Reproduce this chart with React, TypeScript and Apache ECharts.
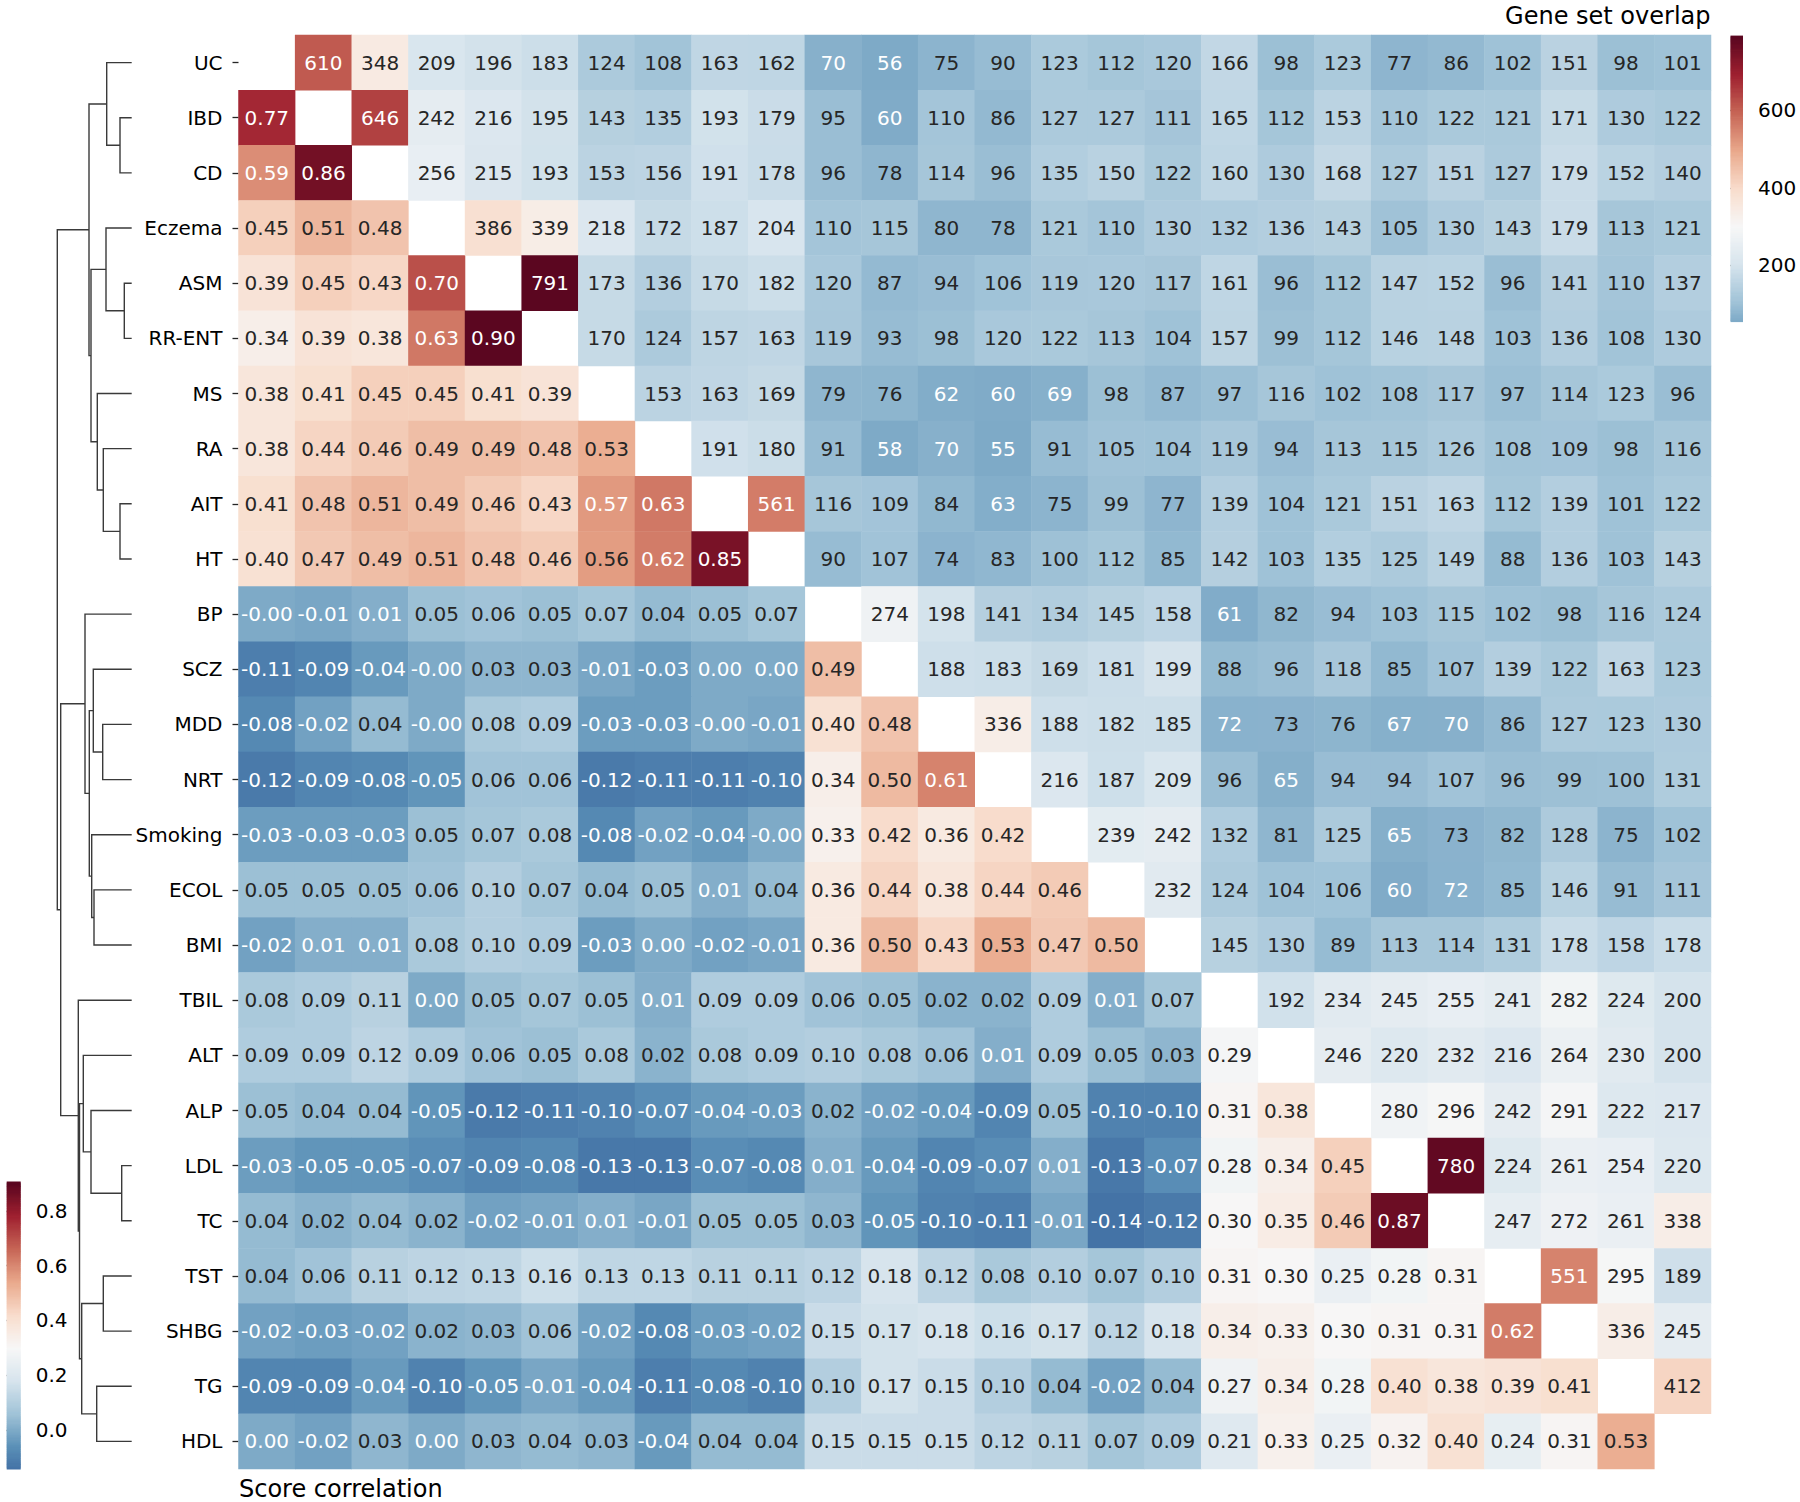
import React, { useEffect, useRef } from "react";
import * as echarts from "echarts";

// ---------- DATA ----------
const traits = [
  "UC", "IBD", "CD", "Eczema", "ASM", "RR-ENT", "MS", "RA", "AIT", "HT",
  "BP", "SCZ", "MDD", "NRT", "Smoking", "ECOL", "BMI",
  "TBIL", "ALT", "ALP", "LDL", "TC", "TST", "SHBG", "TG", "HDL",
];

// lower triangle: score correlation; upper triangle: gene set overlap; diagonal: null
const rowUC = [null, 610, 348, 209, 196, 183, 124, 108, 163, 162, 70, 56, 75, 90, 123, 112, 120, 166, 98, 123, 77, 86, 102, 151, 98, 101];
const rowIBD = [0.77, null, 646, 242, 216, 195, 143, 135, 193, 179, 95, 60, 110, 86, 127, 127, 111, 165, 112, 153, 110, 122, 121, 171, 130, 122];
const rowCD = [0.59, 0.86, null, 256, 215, 193, 153, 156, 191, 178, 96, 78, 114, 96, 135, 150, 122, 160, 130, 168, 127, 151, 127, 179, 152, 140];
const rowEczema = [0.45, 0.51, 0.48, null, 386, 339, 218, 172, 187, 204, 110, 115, 80, 78, 121, 110, 130, 132, 136, 143, 105, 130, 143, 179, 113, 121];
const rowASM = [0.39, 0.45, 0.43, 0.70, null, 791, 173, 136, 170, 182, 120, 87, 94, 106, 119, 120, 117, 161, 96, 112, 147, 152, 96, 141, 110, 137];
const rowRRENT = [0.34, 0.39, 0.38, 0.63, 0.90, null, 170, 124, 157, 163, 119, 93, 98, 120, 122, 113, 104, 157, 99, 112, 146, 148, 103, 136, 108, 130];
const rowMS = [0.38, 0.41, 0.45, 0.45, 0.41, 0.39, null, 153, 163, 169, 79, 76, 62, 60, 69, 98, 87, 97, 116, 102, 108, 117, 97, 114, 123, 96];
const rowRA = [0.38, 0.44, 0.46, 0.49, 0.49, 0.48, 0.53, null, 191, 180, 91, 58, 70, 55, 91, 105, 104, 119, 94, 113, 115, 126, 108, 109, 98, 116];
const rowAIT = [0.41, 0.48, 0.51, 0.49, 0.46, 0.43, 0.57, 0.63, null, 561, 116, 109, 84, 63, 75, 99, 77, 139, 104, 121, 151, 163, 112, 139, 101, 122];
const rowHT = [0.40, 0.47, 0.49, 0.51, 0.48, 0.46, 0.56, 0.62, 0.85, null, 90, 107, 74, 83, 100, 112, 85, 142, 103, 135, 125, 149, 88, 136, 103, 143];
const rowBP = [-0.001, -0.01, 0.01, 0.05, 0.06, 0.05, 0.07, 0.04, 0.05, 0.07, null, 274, 198, 141, 134, 145, 158, 61, 82, 94, 103, 115, 102, 98, 116, 124];
const rowSCZ = [-0.11, -0.09, -0.04, -0.001, 0.03, 0.03, -0.01, -0.03, 0.00, 0.00, 0.49, null, 188, 183, 169, 181, 199, 88, 96, 118, 85, 107, 139, 122, 163, 123];
const rowMDD = [-0.08, -0.02, 0.04, -0.001, 0.08, 0.09, -0.03, -0.03, -0.001, -0.01, 0.40, 0.48, null, 336, 188, 182, 185, 72, 73, 76, 67, 70, 86, 127, 123, 130];
const rowNRT = [-0.12, -0.09, -0.08, -0.05, 0.06, 0.06, -0.12, -0.11, -0.11, -0.10, 0.34, 0.50, 0.61, null, 216, 187, 209, 96, 65, 94, 94, 107, 96, 99, 100, 131];
const rowSmoking = [-0.03, -0.03, -0.03, 0.05, 0.07, 0.08, -0.08, -0.02, -0.04, -0.001, 0.33, 0.42, 0.36, 0.42, null, 239, 242, 132, 81, 125, 65, 73, 82, 128, 75, 102];
const rowECOL = [0.05, 0.05, 0.05, 0.06, 0.10, 0.07, 0.04, 0.05, 0.01, 0.04, 0.36, 0.44, 0.38, 0.44, 0.46, null, 232, 124, 104, 106, 60, 72, 85, 146, 91, 111];
const rowBMI = [-0.02, 0.01, 0.01, 0.08, 0.10, 0.09, -0.03, 0.00, -0.02, -0.01, 0.36, 0.50, 0.43, 0.53, 0.47, 0.50, null, 145, 130, 89, 113, 114, 131, 178, 158, 178];
const rowTBIL = [0.08, 0.09, 0.11, 0.00, 0.05, 0.07, 0.05, 0.01, 0.09, 0.09, 0.06, 0.05, 0.02, 0.02, 0.09, 0.01, 0.07, null, 192, 234, 245, 255, 241, 282, 224, 200];
const rowALT = [0.09, 0.09, 0.12, 0.09, 0.06, 0.05, 0.08, 0.02, 0.08, 0.09, 0.10, 0.08, 0.06, 0.01, 0.09, 0.05, 0.03, 0.29, null, 246, 220, 232, 216, 264, 230, 200];
const rowALP = [0.05, 0.04, 0.04, -0.05, -0.12, -0.11, -0.10, -0.07, -0.04, -0.03, 0.02, -0.02, -0.04, -0.09, 0.05, -0.10, -0.10, 0.31, 0.38, null, 280, 296, 242, 291, 222, 217];
const rowLDL = [-0.03, -0.05, -0.05, -0.07, -0.09, -0.08, -0.13, -0.13, -0.07, -0.08, 0.01, -0.04, -0.09, -0.07, 0.01, -0.13, -0.07, 0.28, 0.34, 0.45, null, 780, 224, 261, 254, 220];
const rowTC = [0.04, 0.02, 0.04, 0.02, -0.02, -0.01, 0.01, -0.01, 0.05, 0.05, 0.03, -0.05, -0.10, -0.11, -0.01, -0.14, -0.12, 0.30, 0.35, 0.46, 0.87, null, 247, 272, 261, 338];
const rowTST = [0.04, 0.06, 0.11, 0.12, 0.13, 0.16, 0.13, 0.13, 0.11, 0.11, 0.12, 0.18, 0.12, 0.08, 0.10, 0.07, 0.10, 0.31, 0.30, 0.25, 0.28, 0.31, null, 551, 295, 189];
const rowSHBG = [-0.02, -0.03, -0.02, 0.02, 0.03, 0.06, -0.02, -0.08, -0.03, -0.02, 0.15, 0.17, 0.18, 0.16, 0.17, 0.12, 0.18, 0.34, 0.33, 0.30, 0.31, 0.31, 0.62, null, 336, 245];
const rowTG = [-0.09, -0.09, -0.04, -0.10, -0.05, -0.01, -0.04, -0.11, -0.08, -0.10, 0.10, 0.17, 0.15, 0.10, 0.04, -0.02, 0.04, 0.27, 0.34, 0.28, 0.40, 0.38, 0.39, 0.41, null, 412];
const rowHDL = [0.00, -0.02, 0.03, 0.00, 0.03, 0.04, 0.03, -0.04, 0.04, 0.04, 0.15, 0.15, 0.15, 0.12, 0.11, 0.07, 0.09, 0.21, 0.33, 0.25, 0.32, 0.40, 0.24, 0.31, 0.53, null];

const matrix = [
  rowUC, rowIBD, rowCD, rowEczema, rowASM, rowRRENT, rowMS, rowRA, rowAIT, rowHT,
  rowBP, rowSCZ, rowMDD, rowNRT, rowSmoking, rowECOL, rowBMI,
  rowTBIL, rowALT, rowALP, rowLDL, rowTC, rowTST, rowSHBG, rowTG, rowHDL,
];

// dendrogram merges (scipy style): [childA, childB, linkage height]; leaves 0..25, new nodes 26..
const merges: [number, number, number][] = [
  [4, 5, 7.4], [20, 21, 10], [1, 2, 11.7], [8, 9, 11.7], [0, 28, 25], [3, 26, 25.7],
  [7, 29, 28.4], [22, 23, 28.4], [12, 13, 29], [6, 32, 34.4], [24, 25, 35], [15, 16, 37.7],
  [11, 34, 38.4], [14, 37, 40], [31, 35, 40.7], [19, 27, 40.7], [38, 39, 42.4], [30, 40, 42.7],
  [10, 42, 46.7], [18, 41, 48.4], [33, 36, 50], [45, 46, 52.2], [17, 47, 53.4], [44, 48, 71], [43, 49, 74.4],
];

const corrTicks = [0, 0.2, 0.4, 0.6, 0.8];
const overlapTicks = [200, 400, 600];
const corrRange = [-0.142, 0.905];
const corrCenter = 0.3;
const overlapRange = [55, 791];
const overlapCenter = 300;

// ---------- COLORMAP (matplotlib RdBu_r, seaborn-style recentering) ----------
const RDBU = [
  [0.403921568627451, 0.0, 0.12156862745098039],
  [0.6980392156862745, 0.09411764705882353, 0.16862745098039217],
  [0.8392156862745098, 0.3764705882352941, 0.30196078431372547],
  [0.9568627450980393, 0.6470588235294118, 0.5098039215686274],
  [0.9921568627450981, 0.8588235294117647, 0.7803921568627451],
  [0.9686274509803922, 0.9686274509803922, 0.9686274509803922],
  [0.8196078431372549, 0.8980392156862745, 0.9411764705882353],
  [0.5725490196078431, 0.7725490196078432, 0.8705882352941177],
  [0.2627450980392157, 0.5764705882352941, 0.7647058823529411],
  [0.12941176470588237, 0.4, 0.6745098039215687],
  [0.0196078431372549, 0.18823529411764706, 0.3803921568627451],
];
const RDBU_R = RDBU.slice().reverse();

function rdbuR(x: number): number[] {
  let i = Math.floor(x * 256);
  if (i < 0) i = 0;
  if (i > 255) i = 255;
  const t = i / 255;
  const p = t * 10;
  const k = Math.min(9, Math.floor(p));
  const f = p - k;
  const a = RDBU_R[k];
  const b = RDBU_R[k + 1];
  return [a[0] + (b[0] - a[0]) * f, a[1] + (b[1] - a[1]) * f, a[2] + (b[2] - a[2]) * f];
}

function centeredListed(vmin: number, vmax: number, center: number): number[][] {
  const vr = Math.max(vmax - center, center - vmin);
  const lo = center - vr;
  const hi = center + vr;
  const cmin = (vmin - lo) / (hi - lo);
  const cmax = (vmax - lo) / (hi - lo);
  const out: number[][] = [];
  for (let i = 0; i < 256; i++) out.push(rdbuR(cmin + ((cmax - cmin) * i) / 255));
  return out;
}

function pick(listed: number[][], v: number, vmin: number, vmax: number) {
  let i = Math.floor(((v - vmin) / (vmax - vmin)) * 256);
  if (i < 0) i = 0;
  if (i > 255) i = 255;
  return listed[i];
}

// the printed reference is slightly muted: mild desaturation with a small violet shift of blues
function toneColor(c: number[]): number[] {
  const luma = 0.299 * c[0] + 0.587 * c[1] + 0.114 * c[2];
  const s = 0.18;
  let r = c[0] + (luma - c[0]) * s;
  const g = c[1] + (luma - c[1]) * s;
  const b = c[2] + (luma - c[2]) * s;
  r = r + 0.12 * Math.max(0, b - r);
  return [r, g, b];
}

function hex(c: number[]) {
  return (
    "#" +
    c
      .map((x) => Math.round(Math.max(0, Math.min(1, x)) * 255).toString(16).padStart(2, "0"))
      .join("")
  );
}

function textColor(c: number[]) {
  const lin = c.map((x) => (x <= 0.03928 ? x / 12.92 : Math.pow((x + 0.055) / 1.055, 2.4)));
  const lum = 0.2126 * lin[0] + 0.7152 * lin[1] + 0.0722 * lin[2];
  return lum <= 0.408 ? "#ffffff" : "#262626";
}

const FONT = "DejaVu Sans";

export default function App() {
  const ref = useRef<HTMLDivElement>(null);

  useEffect(() => {
    if (!ref.current) return;
    const chart = echarts.init(ref.current, null, { renderer: "svg" });

    const corrListed = centeredListed(corrRange[0], corrRange[1], corrCenter);
    const ovlListed = centeredListed(overlapRange[0], overlapRange[1], overlapCenter);
    const corrShown = corrListed.map((c) => hex(toneColor(c)));
    const ovlShown = ovlListed.map((c) => hex(toneColor(c)));

    const corrData: any[] = [];
    const ovlData: any[] = [];
    matrix.forEach((row, i) => {
      row.forEach((v, j) => {
        if (v === null || v === undefined) return;
        if (j < i) {
          const c = pick(corrListed, v, corrRange[0], corrRange[1]);
          corrData.push({ value: [j, i, v], label: { color: textColor(c) } });
        } else if (j > i) {
          const c = pick(ovlListed, v, overlapRange[0], overlapRange[1]);
          ovlData.push({ value: [j, i, v], label: { color: textColor(c) } });
        }
      });
    });

    // dendrogram links
    const pos: number[] = [];
    const hgt: number[] = [];
    for (let i = 0; i < traits.length; i++) {
      pos[i] = i;
      hgt[i] = 0;
    }
    const links = merges.map(([a, b, h], k) => {
      const id = traits.length + k;
      pos[id] = (pos[a] + pos[b]) / 2;
      hgt[id] = h;
      return [pos[a], pos[b], hgt[a], hgt[b], h];
    });

    const barData = (range: number[]) => {
      const out: number[][] = [];
      for (let k = 0; k < 256; k++) {
        out.push([
          k,
          range[0] + ((range[1] - range[0]) * k) / 256,
          range[0] + ((range[1] - range[0]) * (k + 1)) / 256,
        ]);
      }
      return out;
    };

    const barRender = (shown: string[]) => (params: any, api: any) => {
      const k = api.value(0);
      const p1 = api.coord([0, api.value(2)]);
      const p2 = api.coord([1, api.value(1)]);
      return {
        type: "rect",
        shape: { x: p1[0], y: p1[1] - 0.4, width: p2[0] - p1[0], height: p2[1] - p1[1] + 0.8 },
        style: { fill: shown[k] },
        silent: true,
      };
    };

    const heatLabel = {
      show: true,
      fontSize: 20,
      fontFamily: FONT,
    };

    const tickStyle = { color: "#262626", width: 1.3 };

    const option: any = {
      animation: false,
      backgroundColor: "#ffffff",
      textStyle: { fontFamily: FONT },
      grid: [
        { left: 238.5, top: 35, width: 1472.5, height: 1434 },
        { left: 6.7, top: 35, width: 125, height: 1434 },
        { left: 1730.5, top: 36, width: 12.5, height: 285.7 },
        { left: 6.7, top: 1182, width: 14, height: 287 },
      ],
      xAxis: [
        {
          type: "category",
          data: traits,
          gridIndex: 0,
          axisLine: { show: false },
          axisTick: { show: false },
          axisLabel: { show: false },
          splitLine: { show: false },
        },
        { type: "value", gridIndex: 1, min: 0, max: 125, inverse: true, show: false },
        { type: "value", gridIndex: 2, min: 0, max: 1, show: false },
        { type: "value", gridIndex: 3, min: 0, max: 1, show: false },
      ],
      yAxis: [
        {
          type: "category",
          data: traits,
          gridIndex: 0,
          inverse: true,
          axisLine: { show: false },
          axisTick: { show: true, length: 6, alignWithLabel: true, lineStyle: tickStyle },
          axisLabel: { margin: 16, fontSize: 20, color: "#000000", fontFamily: FONT },
          splitLine: { show: false },
        },
        { type: "value", gridIndex: 1, min: -0.5, max: traits.length - 0.5, inverse: true, show: false },
        {
          type: "value",
          gridIndex: 2,
          min: overlapRange[0],
          max: overlapRange[1],
          position: "right",
          axisLine: { show: false },
          splitLine: { show: false },
          axisTick: { show: true, length: 7, lineStyle: tickStyle, customValues: overlapTicks },
          axisLabel: {
            margin: 15,
            fontSize: 20,
            color: "#000000",
            fontFamily: FONT,
            customValues: overlapTicks,
            formatter: (v: number) => String(v),
          },
        },
        {
          type: "value",
          gridIndex: 3,
          min: corrRange[0],
          max: corrRange[1],
          position: "right",
          axisLine: { show: false },
          splitLine: { show: false },
          axisTick: { show: true, length: 7, lineStyle: tickStyle, customValues: corrTicks },
          axisLabel: {
            margin: 15,
            fontSize: 20,
            color: "#000000",
            fontFamily: FONT,
            customValues: corrTicks,
            formatter: (v: number) => v.toFixed(1),
          },
        },
      ],
      visualMap: [
        {
          type: "continuous",
          show: false,
          seriesIndex: 0,
          dimension: 2,
          min: corrRange[0],
          max: corrRange[1],
          inRange: { color: corrShown },
        },
        {
          type: "continuous",
          show: false,
          seriesIndex: 1,
          dimension: 2,
          min: overlapRange[0],
          max: overlapRange[1],
          inRange: { color: ovlShown },
        },
      ],
      series: [
        {
          type: "heatmap",
          xAxisIndex: 0,
          yAxisIndex: 0,
          data: corrData,
          label: { ...heatLabel, formatter: (p: any) => (p.value[2] as number).toFixed(2) },
          emphasis: { disabled: true },
        },
        {
          type: "heatmap",
          xAxisIndex: 0,
          yAxisIndex: 0,
          data: ovlData,
          label: { ...heatLabel, formatter: (p: any) => String(p.value[2]) },
          emphasis: { disabled: true },
        },
        {
          type: "custom",
          xAxisIndex: 1,
          yAxisIndex: 1,
          data: links,
          encode: { x: [2, 3, 4], y: [0, 1] },
          silent: true,
          renderItem: (params: any, api: any) => {
            const yA = api.value(0);
            const yB = api.value(1);
            const hA = api.value(2);
            const hB = api.value(3);
            const H = api.value(4);
            return {
              type: "polyline",
              shape: {
                points: [api.coord([hA, yA]), api.coord([H, yA]), api.coord([H, yB]), api.coord([hB, yB])],
              },
              style: { stroke: "#3a3a3a", lineWidth: 1.4, fill: "none" },
            };
          },
        },
        {
          type: "custom",
          xAxisIndex: 2,
          yAxisIndex: 2,
          data: barData(overlapRange),
          encode: { x: [], y: [1, 2] },
          silent: true,
          renderItem: barRender(ovlShown),
        },
        {
          type: "custom",
          xAxisIndex: 3,
          yAxisIndex: 3,
          data: barData(corrRange),
          encode: { x: [], y: [1, 2] },
          silent: true,
          renderItem: barRender(corrShown),
        },
      ],
      graphic: [
        {
          type: "text",
          x: 1710.5,
          y: 16,
          style: {
            text: "Gene set overlap",
            fill: "#000000",
            font: `24px "${FONT}"`,
            textAlign: "right",
            verticalAlign: "middle",
          },
        },
        {
          type: "text",
          x: 239,
          y: 1489,
          style: {
            text: "Score correlation",
            fill: "#000000",
            font: `24px "${FONT}"`,
            textAlign: "left",
            verticalAlign: "middle",
          },
        },
      ],
    };

    chart.setOption(option);
    return () => chart.dispose();
  }, []);

  return (
    <div
      ref={ref}
      style={{ position: "absolute", left: 0, top: 0, width: 1800, height: 1502, background: "#fff" }}
    />
  );
}
